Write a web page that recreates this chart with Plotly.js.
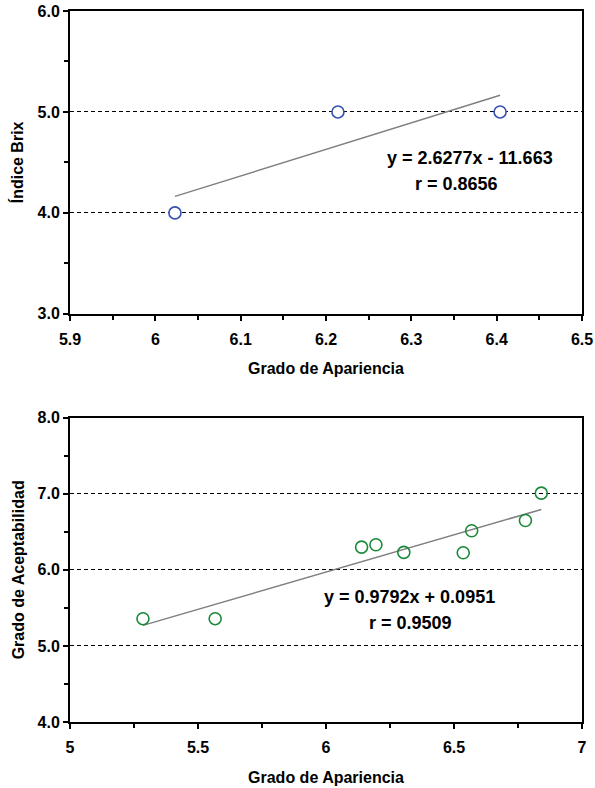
<!DOCTYPE html>
<html>
<head>
<meta charset="utf-8">
<script src="https://cdn.plot.ly/plotly-3.0.1.min.js"></script>
<style>
  html, body { margin: 0; padding: 0; background: #fff; }
  #chart { width: 595px; height: 788px; }
</style>
</head>
<body>
<div id="chart"></div>
<script>
// ---- Data: top chart (Índice Brix vs Grado de Apariencia) ----
const brixX = [6.023, 6.214, 6.404];
const brixY = [4.0, 5.0, 5.0];
const brixSlope = 2.6277;
const brixIntercept = -11.663;
const brixEqText = "y = 2.6277x - 11.663";
const brixRText = "r = 0.8656";

// ---- Data: bottom chart (Grado de Aceptabilidad vs Grado de Apariencia) ----
const acepX = [5.285, 5.567, 6.139, 6.195, 6.304, 6.536, 6.569, 6.779, 6.841];
const acepY = [5.358, 5.358, 6.299, 6.330, 6.229, 6.225, 6.514, 6.649, 7.008];
const acepSlope = 0.9792;
const acepIntercept = 0.0951;
const acepEqText = "y = 0.9792x + 0.0951";
const acepRText = "r = 0.9509";

// ---- Axis labels ----
const xTitle = "Grado de Apariencia";
const yTitleTop = "Índice Brix";
const yTitleBottom = "Grado de Aceptabilidad";

function fitLine(xs, m, b) {
  const x0 = Math.min(...xs), x1 = Math.max(...xs);
  return { x: [x0, x1], y: [m * x0 + b, m * x1 + b] };
}
const brixFit = fitLine(brixX, brixSlope, brixIntercept);
const acepFit = fitLine(acepX, acepSlope, acepIntercept);

const FONT = "Liberation Sans, Arial, sans-serif";
const tickFont = { family: FONT, size: 16, color: "#000", weight: 700 };
const titleFont = { family: FONT, size: 16, color: "#000", weight: 700 };
const annFont = { family: FONT, size: 18, color: "#000", weight: 700 };

const traces = [
  { x: brixFit.x, y: brixFit.y, xaxis: "x", yaxis: "y", mode: "lines",
    line: { color: "#808080", width: 1.5 }, hoverinfo: "skip", showlegend: false },
  { x: brixX, y: brixY, xaxis: "x", yaxis: "y", mode: "markers",
    marker: { symbol: "circle", size: 12, color: "#ffffff", line: { width: 1.6, color: "#3552b0" } },
    showlegend: false },
  { x: acepFit.x, y: acepFit.y, xaxis: "x2", yaxis: "y2", mode: "lines",
    line: { color: "#808080", width: 1.5 }, hoverinfo: "skip", showlegend: false },
  { x: acepX, y: acepY, xaxis: "x2", yaxis: "y2", mode: "markers",
    marker: { symbol: "circle", size: 12, color: "rgba(255,255,255,0)", line: { width: 1.6, color: "#1a8a3a" } },
    showlegend: false }
];

const axisBase = {
  showline: true, linecolor: "#000", linewidth: 2, mirror: true,
  ticks: "outside", ticklen: 5, tickwidth: 2, tickcolor: "#000",
  tickfont: tickFont, zeroline: false, fixedrange: true
};

const layout = {
  width: 595, height: 788,
  margin: { l: 70, r: 13, t: 11, b: 66.3 },
  paper_bgcolor: "#fff", plot_bgcolor: "#fff",
  showlegend: false,
  font: { family: FONT },
  xaxis: Object.assign({}, axisBase, {
    domain: [0, 1], anchor: "y", range: [5.9, 6.5], dtick: 0.1, tick0: 5.9,
    showgrid: false, ticklabelstandoff: 5,
    minor: { dtick: 0.05, tick0: 5.9, ticks: "outside", ticklen: 4, tickwidth: 2, tickcolor: "#000", showgrid: false },
    title: { text: xTitle, font: titleFont, standoff: 16 }
  }),
  yaxis: Object.assign({}, axisBase, {
    domain: [0.5741, 1], anchor: "x", range: [3, 6], dtick: 1, tick0: 3,
    tickformat: ".1f",
    showgrid: true, gridcolor: "#000", gridwidth: 1, griddash: "4px,3px",
    minor: { dtick: 0.5, tick0: 3, ticks: "outside", ticklen: 4, tickwidth: 2, tickcolor: "#000", showgrid: false },
    title: { text: yTitleTop, font: titleFont, standoff: 10 }
  }),
  xaxis2: Object.assign({}, axisBase, {
    domain: [0, 1], anchor: "y2", range: [5, 7], dtick: 0.5, tick0: 5,
    showgrid: false, ticklabelstandoff: 5,
    minor: { dtick: 0.25, tick0: 5, ticks: "outside", ticklen: 4, tickwidth: 2, tickcolor: "#000", showgrid: false },
    title: { text: xTitle, font: titleFont, standoff: 17 }
  }),
  yaxis2: Object.assign({}, axisBase, {
    domain: [0, 0.4280], anchor: "x2", range: [4, 8], dtick: 1, tick0: 4,
    tickformat: ".1f",
    showgrid: true, gridcolor: "#000", gridwidth: 1, griddash: "4px,3px",
    minor: { dtick: 0.5, tick0: 4, ticks: "outside", ticklen: 4, tickwidth: 2, tickcolor: "#000", showgrid: false },
    title: { text: yTitleBottom, font: titleFont, standoff: 9 }
  }),
  annotations: [
    { text: brixEqText, xref: "paper", yref: "paper", x: 0.781, y: 0.7927,
      xanchor: "center", yanchor: "middle", showarrow: false, font: annFont },
    { text: brixRText, xref: "paper", yref: "paper", x: 0.754, y: 0.7562,
      xanchor: "center", yanchor: "middle", showarrow: false, font: annFont },
    { text: acepEqText, xref: "paper", yref: "paper", x: 0.664, y: 0.1759,
      xanchor: "center", yanchor: "middle", showarrow: false, font: annFont },
    { text: acepRText, xref: "paper", yref: "paper", x: 0.666, y: 0.1389,
      xanchor: "center", yanchor: "middle", showarrow: false, font: annFont }
  ]
};

Plotly.newPlot("chart", traces, layout, { staticPlot: true, displayModeBar: false });
</script>
</body>
</html>
